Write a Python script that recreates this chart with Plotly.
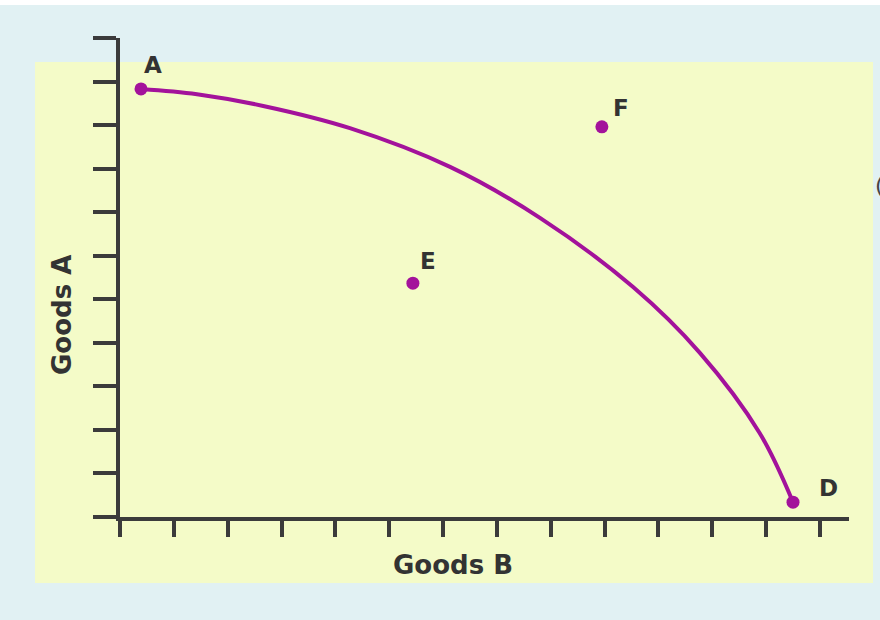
import plotly.graph_objects as go

# Production possibility curve
curve_x = [0.39, 1.43, 2.66, 4.27, 6.13, 7.80, 9.53, 10.77, 11.88, 12.50]
curve_y = [9.83, 9.71, 9.44, 8.93, 8.04, 6.87, 5.28, 3.77, 1.93, 0.34]

point_names = ["A", "D", "E", "F"]
point_x = [0.39, 12.50, 5.44, 8.95]
point_y = [9.83, 0.34, 5.37, 8.96]

x_ticks = list(range(0, 14))
y_ticks = list(range(0, 12))

W, H = 880, 620
L, R, T, B = 120, 31, 38, 103
PW, PH = W - L - R, H - T - B

def px(x):
    return (x - L) / PW

def py(y):
    return (H - B - y) / PH

PURPLE = "#a3129b"
AXIS = "#3b3b3b"
TEXT = "#333333"

fig = go.Figure()
fig.add_trace(go.Scatter(x=curve_x, y=curve_y, mode="lines",
                         line=dict(color=PURPLE, width=4, shape="spline", smoothing=1.0),
                         hoverinfo="skip", showlegend=False))
fig.add_trace(go.Scatter(x=point_x, y=point_y, mode="markers",
                         marker=dict(color=PURPLE, size=13),
                         cliponaxis=False, showlegend=False))

shifts = {"A": (12, 24), "D": (35, 14), "E": (15, 22), "F": (19, 19)}
for n, x, y in zip(point_names, point_x, point_y):
    dx, dy = shifts[n]
    fig.add_annotation(x=x, y=y, text=n, showarrow=False, xshift=dx, yshift=dy,
                       font=dict(family="DejaVu Sans", size=23, color=TEXT, weight="bold"))

fig.add_annotation(xref="paper", yref="paper", x=px(453), y=py(565), text="Goods B",
                   showarrow=False, xanchor="center", yanchor="middle",
                   font=dict(family="DejaVu Sans", size=26, color=TEXT, weight="bold"))
fig.add_annotation(xref="paper", yref="paper", x=px(62), y=py(315), text="Goods A",
                   showarrow=False, xanchor="center", yanchor="middle", textangle=-90,
                   font=dict(family="DejaVu Sans", size=26, color=TEXT, weight="bold"))
fig.add_annotation(xref="paper", yref="paper", x=px(873), y=py(185), text="(",
                   showarrow=False, xanchor="left", yanchor="middle",
                   font=dict(family="DejaVu Sans", size=22, color="#444444"))

# background panels
fig.add_shape(type="rect", xref="paper", yref="paper", x0=px(0), x1=px(880), y0=py(5), y1=py(0),
              fillcolor="#ffffff", line=dict(width=0), layer="below")
fig.add_shape(type="rect", xref="paper", yref="paper", x0=px(35), x1=px(873), y0=py(583), y1=py(62),
              fillcolor="#f4fbc8", line=dict(width=0), layer="below")

fig.update_xaxes(range=[0, 13.54], tickvals=x_ticks, showticklabels=False, ticks="outside",
                 ticklen=16, tickwidth=4, tickcolor=AXIS, showline=True, linewidth=4,
                 linecolor=AXIS, showgrid=False, zeroline=False, fixedrange=True)
fig.update_yaxes(range=[0, 11], tickvals=y_ticks, showticklabels=False, ticks="outside",
                 ticklen=23, tickwidth=4, tickcolor=AXIS, showline=True, linewidth=4,
                 linecolor=AXIS, showgrid=False, zeroline=False, fixedrange=True)

fig.update_layout(width=W, height=H, margin=dict(l=L, r=R, t=T, b=B),
                  paper_bgcolor="#e1f1f3", plot_bgcolor="rgba(0,0,0,0)",
                  showlegend=False)

fig.write_html("out.html", config={"displayModeBar": False},
               post_script="document.body.style.margin='0';document.body.style.overflow='hidden';")
